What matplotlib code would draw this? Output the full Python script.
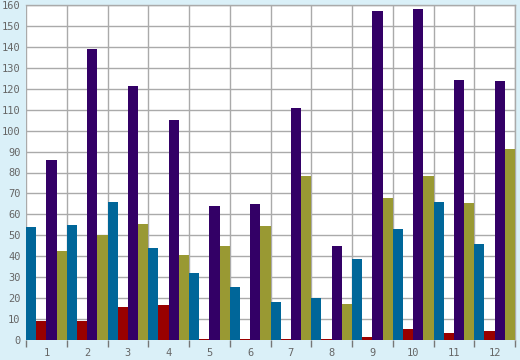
import numpy as np
import matplotlib
matplotlib.use("Agg")
from matplotlib import pyplot as plt

months = ["1", "2", "3", "4", "5", "6", "7", "8", "9", "10", "11", "12"]
blue = [54, 55, 66, 44, 32, 25.5, 18, 20, 38.5, 53, 66, 46]
red = [9, 9, 16, 16.5, 0.5, 0.5, 0.5, 0.5, 1.5, 5.3, 3.4, 4.4]
purple = [86, 139, 121.5, 105, 64, 65, 111, 45, 157, 158, 124, 123.5]
olive = [42.5, 50, 55.5, 40.5, 45, 54.5, 78.5, 17, 68, 78.5, 65.5, 91]

series = [blue, red, purple, olive]
colors = ["#006699", "#990000", "#330066", "#999933"]

bg = "#daf0f8"
grid_c = "#aaaaaa"
text_c = "#666666"

fig = plt.figure(figsize=(5.2, 3.6), dpi=100, facecolor=bg)
ax = fig.add_axes([26 / 520, 20 / 360, 489 / 520, 335 / 360])
ax.set_facecolor("white")

x = np.arange(len(months))
w = 0.25
for i, (vals, c) in enumerate(zip(series, colors)):
    ax.bar(x - 0.5 + w * (i + 0.5), vals, width=w, color=c, linewidth=0, zorder=3)

ax.set_xlim(-0.5, len(months) - 0.5)
ax.set_ylim(0, 160)
ax.set_yticks(np.arange(0, 161, 10))
ax.set_xticks(x)
ax.set_xticklabels(months)
ax.set_xticks(np.arange(-0.5, len(months)), minor=True)

ax.yaxis.grid(True, color=grid_c, linewidth=1, zorder=0)
ax.xaxis.grid(True, which="minor", color=grid_c, linewidth=1, zorder=0)

for s in ["top", "right"]:
    ax.spines[s].set_color(grid_c)
    ax.spines[s].set_linewidth(1)
ax.spines["left"].set_visible(False)
ax.spines["bottom"].set_visible(False)

ax.tick_params(axis="x", which="major", length=0, pad=6, labelcolor=text_c, labelsize=7.5)
ax.tick_params(axis="x", which="minor", length=5, color="#777777", width=1)
ax.tick_params(axis="y", length=0, pad=4, labelcolor=text_c, labelsize=7.5)
for lab in ax.get_xticklabels() + ax.get_yticklabels():
    lab.set_fontfamily("DejaVu Sans Mono")

fig.savefig("out.png", dpi=100, facecolor=bg)
